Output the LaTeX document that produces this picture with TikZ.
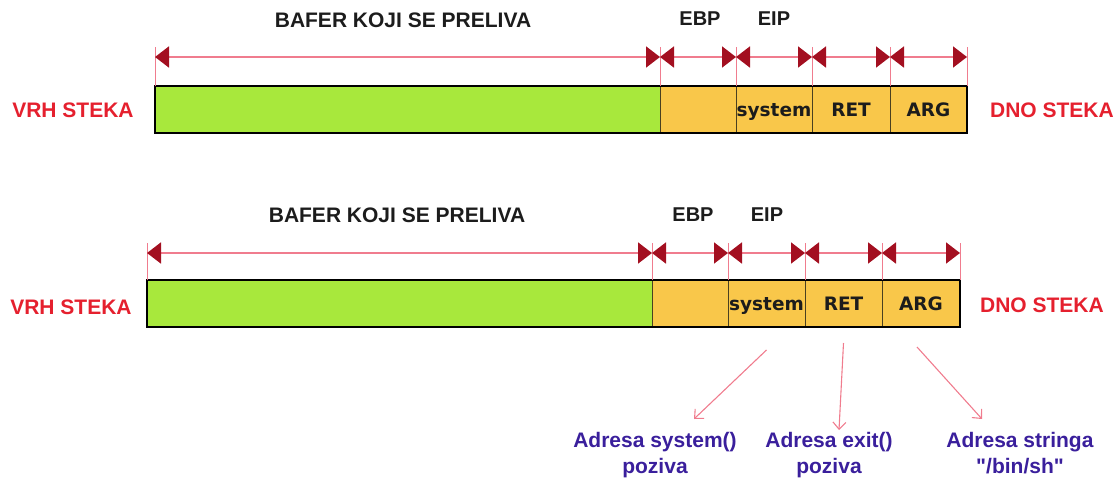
\documentclass[tikz,border=0pt]{standalone}
\usepackage{fontspec}
\setmainfont{Liberation Sans}
\newfontfamily\plainlib{Liberation Sans}
\newfontfamily\dvfont{DejaVu Sans}
\usetikzlibrary{arrows.meta}
\definecolor{bufgreen}{HTML}{A8E83C}
\definecolor{slotorange}{HTML}{F9C74A}
\definecolor{lblred}{HTML}{E5202E}
\definecolor{pinkline}{HTML}{F07C8E}
\definecolor{tipred}{HTML}{A30F20}
\definecolor{lblblue}{HTML}{3A1F9C}
\definecolor{cellline}{HTML}{4A4020}
\definecolor{darktxt}{HTML}{1C1C1C}
\begin{document}
\begin{tikzpicture}[x=1pt,y=-1pt,
  cell/.style={draw=cellline, line width=0.7pt, minimum height=47pt, inner sep=0pt, outer sep=0pt, anchor=north west, fill=slotorange, font=\dvfont\bfseries\fontsize{18.5}{20}\selectfont, text=darktxt, text height=14pt, text depth=1pt},
  outerbox/.style={draw=black, line width=2pt},
  dimline/.style={draw=pinkline, line width=1.8pt, {Triangle[length=14pt,width=21pt,color=tipred]}-{Triangle[length=14pt,width=21pt,color=tipred]}},
  tick/.style={draw=pinkline, line width=0.9pt},
  toplbl/.style={font=\bfseries\fontsize{21}{24}\selectfont, text=darktxt, inner sep=0pt},
  smlbl/.style={font=\bfseries\fontsize{20}{24}\selectfont, text=darktxt, inner sep=0pt},
  redlbl/.style={font=\bfseries\fontsize{21}{24}\selectfont, text=lblred, inner sep=0pt},
  bluelbl/.style={font=\plainlib\bfseries\fontsize{21}{26}\selectfont, text=lblblue, inner sep=0pt, align=center, anchor=north},
  ptr/.style={draw=pinkline, line width=1.1pt, -{Straight Barb[length=7pt,width=13pt]}}
]
\useasboundingbox (0,0) rectangle (1120,482);

% ---------- top stack ----------
\node[cell, fill=bufgreen, minimum width=505pt] (a1) at (155,86) {};
\node[cell, minimum width=76pt] (a2) at (660,86) {};
\node[cell, minimum width=76pt] (a3) at (736,86) {system};
\node[cell, minimum width=78pt] (a4) at (812,86) {RET};
\node[cell, minimum width=77pt] (a5) at (890,86) {ARG};
\draw[outerbox] (a1.north west) rectangle (a5.south east);

\foreach \c in {a1.north west,a1.north east,a2.north east,a3.north east,a4.north east,a5.north east}
  \draw[tick] (\c) -- ([yshift=39pt]\c);
\foreach \c in {a1,a2,a3,a4,a5}
  \draw[dimline] ([yshift=29pt]\c.north west) -- ([yshift=29pt]\c.north east);

\node[toplbl] (bafer1) at (403,20) {BAFER KOJI SE PRELIVA};
\node[smlbl] (ebp1) at (700,19) {EBP};
\node[smlbl] (eip1) at (774,19) {EIP};
\node[redlbl] (vrh1) at (73,110) {VRH STEKA};
\node[redlbl] (dno1) at (1052,110) {DNO STEKA};

% ---------- bottom stack ----------
\node[cell, fill=bufgreen, minimum width=505pt] (b1) at (147,280) {};
\node[cell, minimum width=76pt] (b2) at (652,280) {};
\node[cell, minimum width=77pt] (b3) at (728,280) {system};
\node[cell, minimum width=77pt] (b4) at (805,280) {RET};
\node[cell, minimum width=78pt] (b5) at (882,280) {ARG};
\draw[outerbox] (b1.north west) rectangle (b5.south east);

\foreach \c in {b1.north west,b1.north east,b2.north east,b3.north east,b4.north east,b5.north east}
  \draw[tick] (\c) -- ([yshift=37pt]\c);
\foreach \c in {b1,b2,b3,b4,b5}
  \draw[dimline] ([yshift=27pt]\c.north west) -- ([yshift=27pt]\c.north east);

\node[toplbl] (bafer2) at (397,215) {BAFER KOJI SE PRELIVA};
\node[smlbl] (ebp2) at (693,215) {EBP};
\node[smlbl] (eip2) at (767,215) {EIP};
\node[redlbl] (vrh2) at (71,307) {VRH STEKA};
\node[redlbl] (dno2) at (1042,305) {DNO STEKA};

% ---------- pointers ----------
\node[bluelbl] (t1) at (655,432) {Adresa system()\\poziva};
\node[bluelbl] (t2) at (829,432) {Adresa exit()\\poziva};
\node[bluelbl] (t3) at (1020,432) {Adresa stringa\\"/bin/sh"};

\draw[ptr] ([yshift=-23pt]b3.south) -- ([xshift=39pt,yshift=13pt]t1.north);
\draw[ptr] ([yshift=-16pt]b4.south) -- ([xshift=10pt,yshift=2pt]t2.north);
\draw[ptr] ([xshift=-4pt,yshift=-20pt]b5.south) -- ([xshift=-38pt,yshift=13pt]t3.north);
\end{tikzpicture}
\end{document}
